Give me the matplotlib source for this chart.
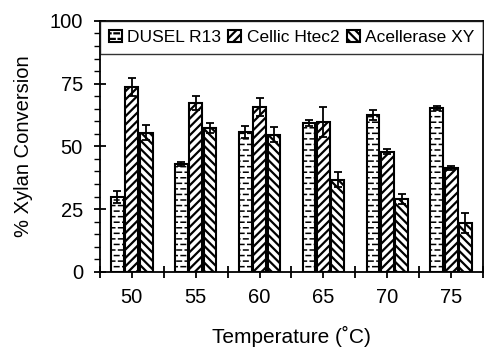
import numpy as np
import matplotlib
matplotlib.use("Agg")
import matplotlib.pyplot as plt
import matplotlib.hatch as mhatch
from matplotlib.path import Path

plt.rcParams['font.family'] = ['Liberation Sans', 'DejaVu Sans']
plt.rcParams['hatch.linewidth'] = 1.6


# short staggered dashes (brick-like) for the DUSEL bars, drawn with the '.' hatch character
class SmallDashes(mhatch.HatchPatternBase):
    length = 0.045

    def __init__(self, hatch, density):
        n = hatch.count('.')
        self.ncols = 2 * density * n
        self.nrows = 3 * density * n
        if n == 0:
            self.num_vertices = 0
        else:
            n_dash = ((self.nrows // 2 + 1) * (self.ncols + 1) +
                      (self.nrows // 2) * self.ncols)
            self.num_vertices = 2 * n_dash

    def set_vertices_and_codes(self, vertices, codes):
        half = self.length / 2
        k = 0
        for row in range(self.nrows + 1):
            y = row / self.nrows
            if row % 2 == 0:
                cols = np.arange(self.ncols + 1) / self.ncols
            else:
                cols = (np.arange(self.ncols) + 0.5) / self.ncols
            for cx in cols:
                vertices[k] = (cx - half, y)
                vertices[k + 1] = (cx + half, y)
                codes[k] = Path.MOVETO
                codes[k + 1] = Path.LINETO
                k += 2


for i, t in enumerate(mhatch._hatch_types):
    if t is mhatch.SmallFilledCircles:
        mhatch._hatch_types[i] = SmallDashes

temps = ['50', '55', '60', '65', '70', '75']
series = ['DUSEL R13', 'Cellic Htec2', 'Acellerase XY']

dusel = [29.9, 43.0, 55.8, 59.4, 62.5, 65.3]
dusel_err = [2.4, 0.9, 2.4, 1.3, 2.0, 0.9]
cellic = [73.7, 67.3, 65.7, 59.8, 47.8, 41.4]
cellic_err = [3.6, 2.8, 3.6, 6.0, 1.0, 0.9]
acell = [55.4, 57.4, 54.6, 36.7, 29.1, 19.5]
acell_err = [3.0, 2.0, 3.0, 3.0, 2.0, 4.0]

values = [dusel, cellic, acell]
errors = [dusel_err, cellic_err, acell_err]
hatches = ['.', '////', '\\\\\\\\']

fig = plt.figure(figsize=(4.85, 3.49), dpi=100)
ax = fig.add_axes([0.206, 0.221, 0.79, 0.719])

x = np.arange(len(temps))
width = 0.2
step = 0.225
for i, (name, vals, errs, h) in enumerate(zip(series, values, errors, hatches)):
    bars = ax.bar(x + (i - 1) * step, vals, width, yerr=errs, label=name,
                  color='white', edgecolor='black', linewidth=1.5, hatch=h,
                  error_kw=dict(ecolor='black', elinewidth=1.3, capsize=3, capthick=1.3))
    if h == '.':
        for p in bars:
            if hasattr(p, 'set_hatch_linewidth'):
                p.set_hatch_linewidth(1.1)

ax.set_xlim(-0.5, len(temps) - 0.5)
ax.set_ylim(0, 100)

# x: labels at group centres, boundary ticks crossing the axis
ax.set_xticks(x, temps)
ax.set_xticks(np.arange(-0.5, len(temps)), minor=True)
ax.tick_params(axis='x', which='major', direction='out', length=4.5, width=1.3,
               labelsize=14.5, pad=7)
ax.tick_params(axis='x', which='minor', direction='inout', length=9, width=1.3)

# y: majors every 25, minors every 5
ax.set_yticks([0, 25, 50, 75, 100])
ax.set_yticks(np.arange(0, 101, 5), minor=True)
ax.tick_params(axis='y', which='major', direction='inout', length=8.5, width=1.3,
               labelsize=14.5, pad=8)
ax.tick_params(axis='y', which='minor', direction='out', length=4, width=1.0)

for s in ax.spines.values():
    s.set_linewidth(1.3)

ax.set_xlabel('Temperature (˚C)', fontsize=15, labelpad=14)
ax.set_ylabel('% Xylan Conversion', fontsize=14.5, labelpad=12)

leg = ax.legend(loc='upper center', ncol=3, mode='expand',
                bbox_to_anchor=(0, 0.857, 1, 0.143), borderaxespad=0,
                fontsize=12.5, frameon=True, fancybox=False,
                handlelength=0.75, handleheight=0.75, handletextpad=0.3,
                columnspacing=0.6, borderpad=0.5)
leg.get_frame().set_edgecolor('black')
leg.get_frame().set_linewidth(1.0)

fig.savefig('out.png', dpi=100)
